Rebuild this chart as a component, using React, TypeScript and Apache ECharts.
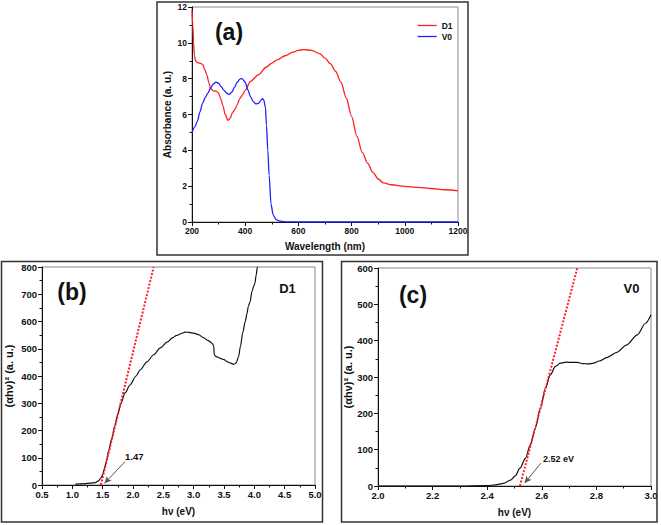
import React, { useEffect, useRef } from "react";
import * as echarts from "echarts";

// ---------- Panel (a): UV-Vis absorbance ----------
const WL_D1 = [200, 203, 206, 209, 213, 220, 230, 240, 248, 256, 263, 270, 280, 290, 300, 305, 310, 316, 325, 335, 344, 352, 362, 370, 380, 390, 400, 420, 450, 480, 500, 520, 550, 580, 600, 620, 650, 680, 700, 720, 740, 760, 780, 800, 820, 840, 860, 880, 900, 920, 950, 1000, 1050, 1100, 1150, 1200];
const ABS_D1 = [11.8, 11.0, 10.0, 9.3, 9.0, 8.9, 8.87, 8.8, 8.5, 8.2, 7.8, 7.45, 7.32, 7.3, 7.2, 7.0, 6.8, 6.5, 6.0, 5.67, 5.8, 6.1, 6.3, 6.55, 6.9, 7.1, 7.35, 7.85, 8.22, 8.65, 8.87, 9.05, 9.28, 9.48, 9.58, 9.62, 9.58, 9.4, 9.15, 8.84, 8.4, 7.8, 6.92, 5.9, 4.78, 3.89, 3.29, 2.77, 2.4, 2.18, 2.08, 1.99, 1.93, 1.87, 1.8, 1.74];
const WL_V0 = [200, 210, 220, 230, 240, 250, 260, 270, 280, 290, 300, 310, 320, 330, 340, 350, 360, 370, 380, 385, 390, 400, 410, 420, 430, 440, 450, 458, 465, 470, 476, 480, 485, 490, 497, 505, 515, 530, 550, 600, 800, 1000, 1200];
const ABS_V0 = [4.97, 5.3, 5.6, 6.15, 6.64, 6.95, 7.2, 7.48, 7.7, 7.81, 7.75, 7.55, 7.35, 7.2, 7.12, 7.25, 7.53, 7.8, 7.98, 8.02, 7.98, 7.8, 7.38, 7.0, 6.73, 6.59, 6.62, 6.78, 6.88, 6.8, 6.4, 5.4, 4.0, 2.6, 1.0, 0.4, 0.15, 0.05, 0.01, 0, 0, 0, 0];

// ---------- Panel (b): Tauc plot D1 ----------
const HV_D1 = [1.05, 1.2, 1.3, 1.38, 1.43, 1.47, 1.5, 1.53, 1.56, 1.6, 1.65, 1.7, 1.75, 1.8, 1.87, 1.95, 2.05, 2.12, 2.23, 2.34, 2.45, 2.56, 2.65, 2.72, 2.8, 2.86, 2.93, 3.0, 3.08, 3.16, 3.24, 3.3, 3.33, 3.34, 3.36, 3.44, 3.5, 3.55, 3.6, 3.66, 3.7, 3.74, 3.77, 3.81, 3.85, 3.88, 3.9, 3.93, 3.96, 3.99, 4.01, 4.03, 4.05, 4.07];
const TAUC_D1 = [3, 5, 7, 9, 15, 25, 38, 60, 88, 125, 171, 216, 260, 300, 338, 367, 400, 423, 452, 478, 503, 524, 540, 549, 556, 561, 560, 557, 552, 541, 530, 521, 512, 478, 472, 465, 460, 453, 448, 443, 448, 470, 508, 560, 600, 630, 655, 672, 710, 730, 741, 770, 800, 830];
const FIT_D1_X = [1.47, 2.34];
const FIT_D1_Y = [0, 800];
const GAP_D1_LABEL = "1.47";

// ---------- Panel (c): Tauc plot V0 ----------
const HV_V0 = [2.0, 2.3, 2.4, 2.43, 2.46, 2.485, 2.503, 2.52, 2.54, 2.558, 2.576, 2.595, 2.613, 2.631, 2.65, 2.668, 2.69, 2.71, 2.73, 2.75, 2.77, 2.79, 2.81, 2.84, 2.875, 2.91, 2.95, 2.98, 3.0];
const TAUC_V0 = [0, 0, 1, 3, 7, 16, 28, 49, 76, 113, 159, 214, 269, 306, 329, 338, 341, 340, 340, 337, 336, 338, 344, 354, 368, 388, 416, 448, 471];
const FIT_V0_X = [2.52, 2.73];
const FIT_V0_Y = [0, 600];
const GAP_V0_LABEL = "2.52 eV";

const FONT = 'Arial, "Liberation Sans", sans-serif';
const RED = "#ff1f1f";
const BLUE = "#1f1fff";
const INK = "#111";

const pairs = (xs: number[], ys: number[]) => xs.map((x, i) => [x, ys[i]]);

function makeX(gridIndex: number, min: number, max: number, interval: number, name: string, nameGap: number, fs: number, dec: number) {
  return {
    type: "value", gridIndex, min, max, interval,
    name, nameLocation: "middle", nameGap,
    nameTextStyle: { fontFamily: FONT, fontWeight: "bold", fontSize: 10, color: INK },
    axisLine: { show: true, onZero: false, lineStyle: { color: INK, width: 1 } },
    axisTick: { show: true, inside: false, length: 4, lineStyle: { color: INK } },
    minorTick: { show: true, splitNumber: 2, length: 2.5, lineStyle: { color: INK } },
    splitLine: { show: false },
    axisLabel: {
      fontFamily: FONT, fontWeight: "bold", fontSize: fs, color: INK, margin: 4,
      showMinLabel: true, showMaxLabel: true,
      formatter: (v: number) => v.toFixed(dec),
    },
  };
}

function makeY(gridIndex: number, min: number, max: number, interval: number, name: string, nameGap: number, fs: number, nameFs: number) {
  return {
    type: "value", gridIndex, min, max, interval,
    name, nameLocation: "middle", nameGap, nameRotate: 90,
    nameTextStyle: { fontFamily: FONT, fontWeight: "bold", fontSize: nameFs, color: INK },
    axisLine: { show: true, onZero: false, lineStyle: { color: INK, width: 1 } },
    axisTick: { show: true, inside: false, length: 4, lineStyle: { color: INK } },
    minorTick: { show: true, splitNumber: 2, length: 2.5, lineStyle: { color: INK } },
    splitLine: { show: false },
    axisLabel: {
      fontFamily: FONT, fontWeight: "bold", fontSize: fs, color: INK, margin: 5,
      showMinLabel: true, showMaxLabel: true,
    },
  };
}

const arrowLine = (from: number[], to: number[]) => ({
  silent: true,
  symbol: ["none", "arrow"],
  symbolSize: [5, 7],
  lineStyle: { color: "#555", width: 1, type: "solid" },
  label: { show: false },
  emphasis: { disabled: true },
  data: [[{ coord: from }, { coord: to }]],
});

export default function App() {
  const ref = useRef<HTMLDivElement>(null);

  useEffect(() => {
    document.body.style.margin = "0";
    if (!ref.current) return;
    const chart = echarts.init(ref.current, undefined, { renderer: "svg" });

    const gridStyle = { show: true, borderColor: "#8a8a8a", borderWidth: 1, backgroundColor: "transparent", containLabel: false };

    const option: any = {
      animation: false,
      backgroundColor: "#fff",
      textStyle: { fontFamily: FONT },
      grid: [
        { ...gridStyle, left: 192, top: 7, width: 266, height: 215 },
        { ...gridStyle, left: 42, top: 267, width: 273, height: 218 },
        { ...gridStyle, left: 378, top: 268, width: 273, height: 218 },
      ],
      xAxis: [
        makeX(0, 200, 1200, 200, "Wavelength (nm)", 19, 8.5, 0),
        makeX(1, 0.5, 5.0, 0.5, "h\u03bd (eV)", 21, 9.5, 1),
        makeX(2, 2.0, 3.0, 0.2, "h\u03bd (eV)", 21, 9.5, 1),
      ],
      yAxis: [
        makeY(0, 0, 12, 2, "Absorbance (a. u.)", 20, 8.5, 10),
        makeY(1, 0, 800, 100, "(\u03b1h\u03bd)\u00b2 (a. u.)", 28, 9.5, 11),
        makeY(2, 0, 600, 100, "(\u03b1h\u03bd)\u00b2 (a. u.)", 22, 9.5, 11),
      ],
      legend: {
        left: 412, top: 16, orient: "vertical",
        itemWidth: 19, itemHeight: 9, itemGap: 2,
        itemStyle: { opacity: 0 },
        lineStyle: { width: 1.3 },
        textStyle: { fontFamily: FONT, fontWeight: "bold", fontSize: 8.5, color: INK },
        data: ["D1", "V0"],
        selectedMode: false,
      },
      series: [
        {
          name: "D1", type: "line", xAxisIndex: 0, yAxisIndex: 0,
          data: pairs(WL_D1, ABS_D1), showSymbol: false, symbol: "none",
          smooth: 0.3, smoothMonotone: "x",
          lineStyle: { color: RED, width: 1.3 }, itemStyle: { color: RED },
        },
        {
          name: "V0", type: "line", xAxisIndex: 0, yAxisIndex: 0,
          data: pairs(WL_V0, ABS_V0), showSymbol: false, symbol: "none",
          smooth: 0.3, smoothMonotone: "x",
          lineStyle: { color: BLUE, width: 1.3 }, itemStyle: { color: BLUE },
        },
        {
          name: "D1 Tauc", type: "line", xAxisIndex: 1, yAxisIndex: 1,
          data: pairs(HV_D1, TAUC_D1), showSymbol: false, symbol: "none",
          smooth: 0.3, smoothMonotone: "x", clip: true,
          lineStyle: { color: INK, width: 1.2 },
          markLine: arrowLine([1.87, 86], [1.53, 6]),
        },
        {
          name: "D1 fit", type: "line", xAxisIndex: 1, yAxisIndex: 1,
          data: pairs(FIT_D1_X, FIT_D1_Y), showSymbol: false, symbol: "none",
          lineStyle: { color: RED, width: 2, type: [2, 1.6] },
        },
        {
          name: "V0 Tauc", type: "line", xAxisIndex: 2, yAxisIndex: 2,
          data: pairs(HV_V0, TAUC_V0), showSymbol: false, symbol: "none",
          smooth: 0.3, smoothMonotone: "x", clip: true,
          lineStyle: { color: INK, width: 1.2 },
          markLine: arrowLine([2.597, 63], [2.537, 8]),
        },
        {
          name: "V0 fit", type: "line", xAxisIndex: 2, yAxisIndex: 2,
          data: pairs(FIT_V0_X, FIT_V0_Y), showSymbol: false, symbol: "none",
          lineStyle: { color: RED, width: 2, type: [2, 1.6] },
        },
      ],
    };
    chart.setOption(option);

    const pB = chart.convertToPixel({ xAxisIndex: 1, yAxisIndex: 1 }, [1.87, 106]) as number[];
    const pC = chart.convertToPixel({ xAxisIndex: 2, yAxisIndex: 2 }, [2.604, 74]) as number[];

    const frame = (x: number, y: number, w: number, h: number) => ({
      type: "rect", silent: true, z: 100,
      shape: { x, y, width: w, height: h },
      style: { fill: "none", stroke: "#333", lineWidth: 1.5 },
    });
    const txt = (x: number, y: number, text: string, fontSize: number, align = "center") => ({
      type: "text", silent: true, z: 100, x, y,
      style: { text, fontFamily: FONT, fontWeight: "bold", fontSize, fill: INK, align, verticalAlign: "middle" },
    });

    chart.setOption({
      graphic: [
        frame(157, 2, 311, 253),
        frame(1.5, 261.5, 321, 260.5),
        frame(341.5, 261.5, 315.5, 260.5),
        txt(229, 32, "(a)", 23),
        txt(72, 292, "(b)", 23),
        txt(413, 295, "(c)", 23),
        txt(287.5, 288, "D1", 13),
        txt(631.5, 288, "V0", 13),
        txt(pB[0], pB[1], GAP_D1_LABEL, 9.5, "left"),
        txt(pC[0], pC[1], GAP_V0_LABEL, 9, "left"),
      ],
    });

    return () => chart.dispose();
  }, []);

  return <div ref={ref} style={{ width: 661, height: 525 }} />;
}
